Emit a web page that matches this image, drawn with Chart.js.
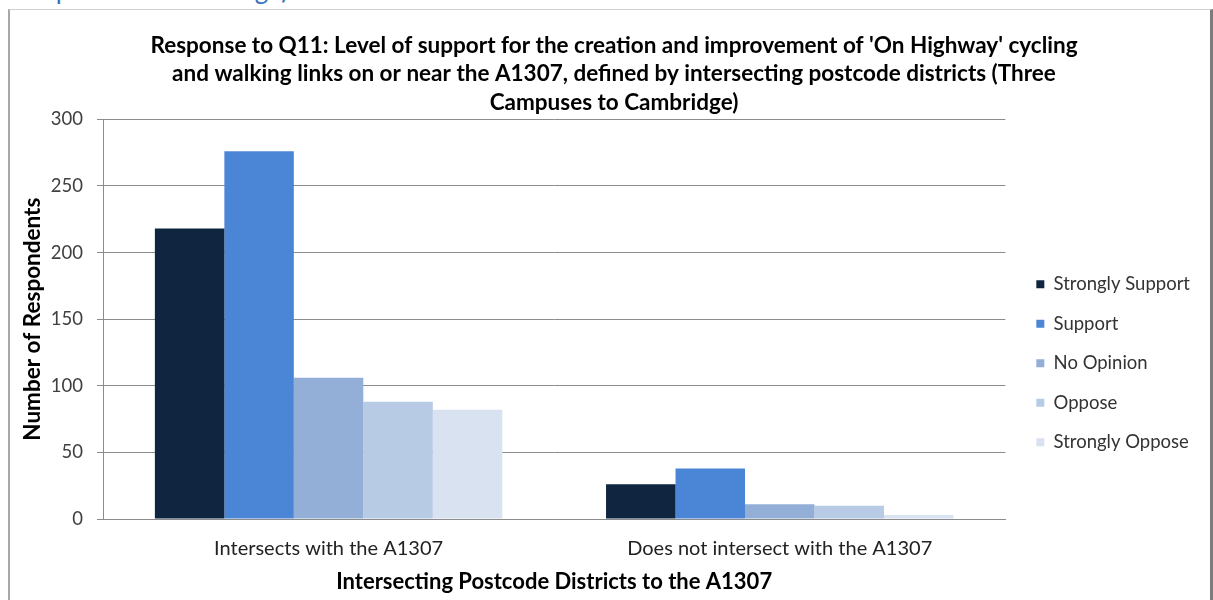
<!DOCTYPE html>
<html>
<head>
<meta charset="utf-8">
<script src="https://cdn.jsdelivr.net/npm/chart.js@4.4.1/dist/chart.umd.min.js"></script>
<style>
    html, body { margin: 0; padding: 0; background: #fff; width: 1213px; height: 600px; overflow: hidden; }
    .caption { position: absolute; left: 4px; top: -27px; font: 26px Lato, sans-serif; color: #3a72c0; white-space: nowrap; }
    .frame { position: absolute; left: 8px; top: 9px; width: 1200px; height: 600px;
             border-left: 2px solid #a8a8a8; border-top: 1px solid #cfcfcf; border-right: 3px solid #7c7c7c; }
    canvas { display: block; }
</style>
</head>
<body>
<div class="caption">Campuses to Cambridge)</div>
<div class="frame">
    <canvas id="q11-chart" width="1200" height="591"></canvas>
</div>
<script>
// Q11 responses by postcode district group
const categories = ['Intersects with the A1307', 'Does not intersect with the A1307'];
const responses = ['Strongly Support', 'Support', 'No Opinion', 'Oppose', 'Strongly Oppose'];
const stronglySupport = [218, 26];
const support = [276, 38];
const noOpinion = [106, 11];
const oppose = [88, 10];
const stronglyOppose = [82, 3];
const yTicks = [0, 50, 100, 150, 200, 250, 300];

const titleLines = [
    "Response to Q11: Level of support for the creation and improvement of 'On Highway' cycling",
    "and walking links on or near the A1307, defined by intersecting postcode districts (Three",
    "Campuses to Cambridge)"
];

const seriesValues = [stronglySupport, support, noOpinion, oppose, stronglyOppose];
const seriesColors = ['#10253f', '#4b86d6', '#93afd8', '#b8cbe5', '#d8e2f1'];

const FONT = 'Lato, "Open Sans", sans-serif';

new Chart(document.getElementById('q11-chart'), {
    type: 'bar',
    data: {
        labels: categories,
        datasets: responses.map((name, i) => ({
            label: name,
            data: seriesValues[i],
            backgroundColor: seriesColors[i],
            borderWidth: 0,
            categoryPercentage: 0.77,
            barPercentage: 1.0
        }))
    },
    options: {
        responsive: false,
        animation: false,
        layout: { padding: { left: 18, right: 10, top: 0, bottom: 0 } },
        plugins: {
            title: {
                display: true,
                text: titleLines,
                color: '#000',
                font: { family: FONT, size: 22.5, weight: 'bold', lineHeight: 1.25 },
                padding: { top: 22, bottom: 3 }
            },
            legend: {
                position: 'right',
                // blank legend title only pushes the entries down the side
                title: { display: true, text: ' ', font: { size: 12 }, padding: { top: 101, bottom: 0 } },
                labels: {
                    color: '#333',
                    font: { family: FONT, size: 18.5 },
                    boxWidth: 8,
                    boxHeight: 8,
                    padding: 21
                }
            },
            tooltip: { enabled: false }
        },
        scales: {
            x: {
                grid: { display: false, drawTicks: false },
                border: { color: '#8c8c8c' },
                ticks: { color: '#222', font: { family: FONT, size: 20 }, padding: 18 },
                title: {
                    display: true,
                    text: 'Intersecting Postcode Districts to the A1307',
                    color: '#000',
                    font: { family: FONT, size: 22, weight: 'bold' },
                    padding: { top: 4, bottom: 6 }
                },
                afterFit: scale => { scale.height = 82; }
            },
            y: {
                min: 0,
                max: 300,
                afterBuildTicks: scale => { scale.ticks = yTicks.map(v => ({ value: v })); },
                grid: { color: '#8c8c8c', tickLength: 6, tickColor: '#8c8c8c' },
                border: { color: '#8c8c8c' },
                ticks: { color: '#404040', font: { family: FONT, size: 18.5 }, padding: 14 },
                title: {
                    display: true,
                    text: 'Number of Respondents',
                    color: '#000',
                    font: { family: FONT, size: 22.5, weight: 'bold' },
                    padding: { top: -9, bottom: 4 }
                },
                afterFit: scale => { scale.width = 75; }
            },
            spacer: {
                position: 'right',
                display: true,
                grid: { display: false, drawTicks: false },
                border: { display: false },
                ticks: { display: false },
                afterFit: scale => { scale.width = 10; }
            }
        }
    }
});
</script>
</body>
</html>
